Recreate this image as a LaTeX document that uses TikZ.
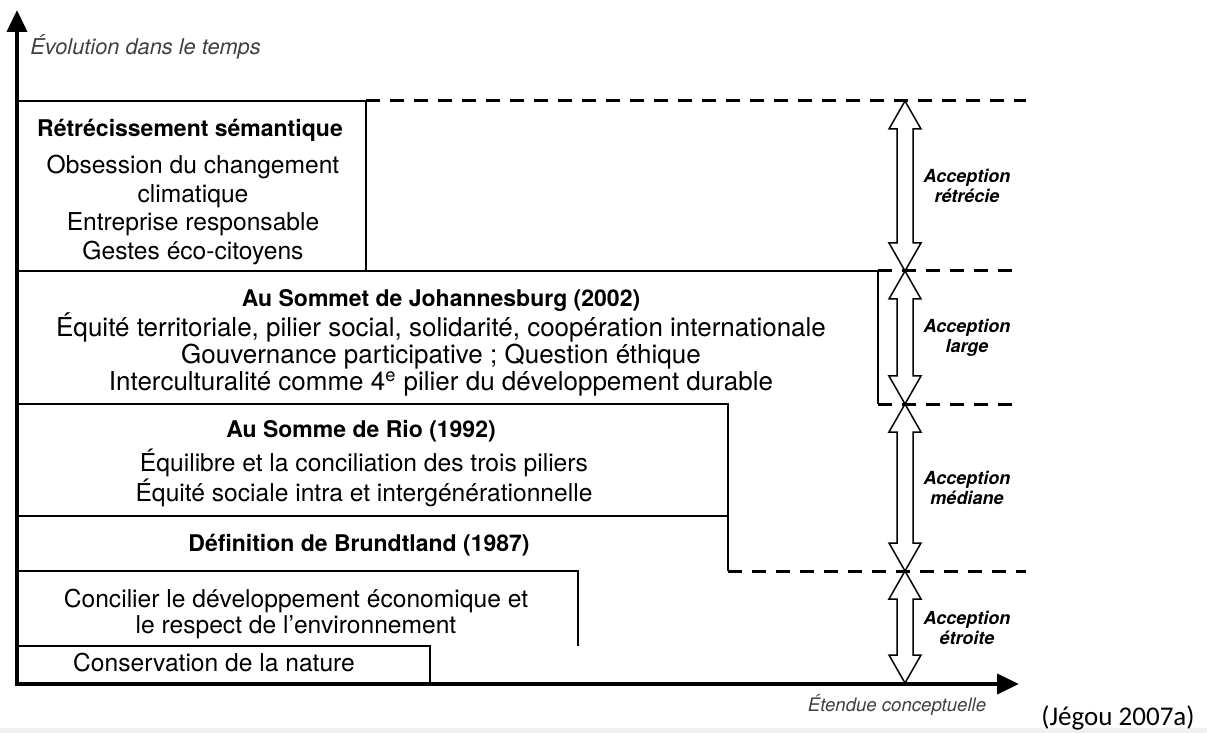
\documentclass[tikz,border=0pt]{standalone}
\usepackage{fontspec}
\setmainfont{TeX Gyre Heros}
\newfontfamily\sourcefont{Carlito}
\usepackage{tikz}
\usetikzlibrary{arrows.meta,calc}

\tikzset{
  frame/.style={line width=0.75pt},
  axis/.style={line width=2pt, line join=miter},
  level/.style={line width=1.5pt, dash pattern=on 7pt off 5pt},
  accarrow/.style={line width=0.75pt, fill=white, line join=miter},
  head/.style={font=\bfseries\fontsize{11.5}{13.5}\selectfont, inner sep=0pt},
  body/.style={font=\fontsize{12.3}{13}\selectfont, align=center, inner sep=0pt},
  widebody/.style={font=\fontsize{13}{13.5}\selectfont, align=center, inner sep=0pt},
  acc/.style={font=\bfseries\itshape\fontsize{9}{10}\selectfont, align=center, inner sep=0pt},
  axlabel/.style={font=\itshape\fontsize{#1}{10}\selectfont, text=black!75, inner sep=0pt}
}

% open double arrow between two levels
\newcommand\accarrow[2]{%
  \draw[accarrow] (#1) -- ($(#1)+(16,28)$) -- ($(#1)+(8,28)$) -- ($(#2)+(8,-28)$)
    -- ($(#2)+(16,-28)$) -- (#2) -- ($(#2)+(-16,-28)$) -- ($(#2)+(-8,-28)$)
    -- ($(#1)+(-8,28)$) -- ($(#1)+(-16,28)$) -- cycle;}

\begin{document}
\begin{tikzpicture}[x=0.5pt,y=-0.5pt]
\useasboundingbox (0,0) rectangle (1207,733);
\fill[black!6] (0,728) rectangle (1207,733);

% boxes
\draw[frame] (18,101) -| (366,271);
\draw[frame] (18,271) -| (878,404);
\draw[frame] (18,404) -| (728,571);
\draw[frame] (18,516) -- (728,516);
\draw[frame] (18,571) -| (578,646);
\draw[frame] (18,646) -| (430,684);

% levels
\draw[level] (366,101) -- (1026,101);
\draw[level] (878,271) -- (1014,271);
\draw[level] (878,404) -- (1014,404);
\draw[level] (728,571) -- (1026,571);

\coordinate (l0) at (905,101);
\coordinate (l1) at (905,271);
\coordinate (l2) at (905,404);
\coordinate (l3) at (905,571);
\coordinate (l4) at (905,683);

\accarrow{l0}{l1}
\accarrow{l1}{l2}
\accarrow{l2}{l3}
\accarrow{l3}{l4}

% texts
\node[head] (retr) at (190,130) {Rétrécissement sémantique};
\node[body, font=\fontsize{12.3}{14.2}\selectfont] (retrb) at (193,210) {Obsession du changement\\climatique\\Entreprise responsable\\Gestes éco-citoyens};

\node[head] (joh) at (441,300) {Au Sommet de Johannesburg (2002)};
\node[widebody] (johb) at (441,354) {Équité territoriale, pilier social, solidarité, coopération internationale\\Gouvernance participative ; Question éthique\\Interculturalité comme 4\textsuperscript{e} pilier du développement durable};

\node[head] (rio) at (361,431) {Au Somme de Rio (1992)};
\node[body] (riob) at (364,478) {Équilibre et la conciliation des trois piliers\\Équité sociale intra et intergénérationnelle};

\node[head] (brund) at (359,545) {Définition de Brundtland (1987)};
\node[body] (conc) at (296,614) {Concilier le développement économique et\\le respect de l’environnement};
\node[body] (cons) at (214,663) {Conservation de la nature};

\node[acc] (retr-acc) at (967,186) {Acception\\rétrécie};
\node[acc] (large-acc) at (967,338) {Acception\\large};
\node[acc] (med-acc) at (967,488) {Acception\\médiane};
\node[acc] (etr-acc) at (967,628) {Acception\\étroite};

% axes
\draw[axis, {Triangle[length=11pt,width=10pt]}-{Triangle[length=11pt,width=10pt]}]
  (17,10) -- (17,684) -- (1019,684);
\node[axlabel=10.9, anchor=west] (temps) at (30,47) {Évolution dans le temps};
\node[axlabel=9.3] (etendue) at (897,705) {Étendue conceptuelle};
\node[inner sep=0pt, font=\sourcefont\fontsize{13.5}{14}\selectfont] (src) at (1118,718) {(Jégou 2007a)};
\end{tikzpicture}
\end{document}
